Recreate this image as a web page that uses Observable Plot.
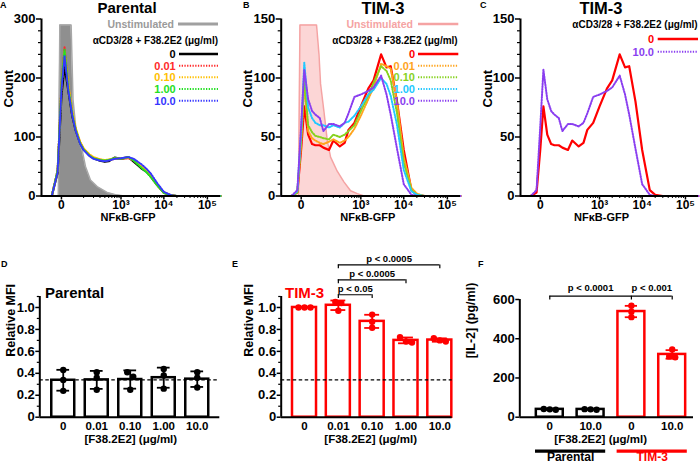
<!DOCTYPE html>
<html>
<head>
<meta charset="utf-8">
<script src="https://cdn.jsdelivr.net/npm/d3@7"></script>
<script src="https://cdn.jsdelivr.net/npm/@observablehq/plot@0.6"></script>
<style>
  html, body { margin: 0; padding: 0; background: #fff; }
  #fig { position: relative; width: 700px; height: 464px; overflow: hidden; background: #fff; }
  #fig svg { position: absolute; background: transparent; max-width: none; }
</style>
</head>
<body>
<div id="fig"></div>
<script>
// ================= DATA =================
// Histogram intensity grid (NFκB-GFP)
const histX = [-84, -60, -30, -10, 0, 8, 20, 35, 50, 75, 100, 150, 200, 300, 400, 500, 700, 1000, 1500, 2000, 3000, 4000, 5000, 7000, 10000, 15000, 20000, 30000, 200000];

// Panel A – Parental (counts at histX)
const parentalDoses = ["0", "0.01", "0.10", "1.00", "10.0"];
const parentalColors = ["#000000", "#ff2a2a", "#ffc000", "#22e022", "#3535ff"];
const parental_0   = [0,0,0,40,170,220,178,135,112,90,79,69,64,60,58,59,65,63,66,58,47,41,33,19,6,1,0,0,0];
const parental_001 = [0,0,0,45,190,252,185,140,114,91,80,70,65,62,60,61,63,63,64,60,50,42,33,18,5,1,0,0,0];
const parental_010 = [0,0,0,42,185,245,188,143,116,93,81,71,66,62,61,62,64,64,65,61,50,43,35,20,6,1,0,0,0];
const parental_100 = [0,0,0,44,188,248,182,138,113,90,79,69,64,61,60,61,64,63,66,60,48,40,32,18,5,1,0,0,0];
const parental_10  = [0,0,0,40,180,237,178,136,111,89,78,68,63,60,59,60,63,64,66,63,54,46,38,22,7,1,0,0,0];
const parentalUnstimX = [-84,-8,-4,0,10,20,30,38,54,89,115,163,251,456,733,1200,200000];
const parentalUnstimY = [0,0,290,290,290,290,290,163,106,78,50,27,16,6,2,0,0];

// Panels B, C – TIM-3 (counts at histX)
const timDoses = ["0", "0.01", "0.10", "1.00", "10.0"];
const timColors = ["#ff0000", "#ffa41c", "#86d21e", "#22c8ff", "#8a3ef0"];
const tim_0   = [0,0,0,3,40,76,52,44,43,43,41,39,47,42,45,56,62,76,91,98,120,109,110,80,39,5,1,0,0];
const tim_001 = [0,0,0,3,45,95,55,49,47,45,44,46,48,45,47,50,57,68,82,92,112,110,108,80,33,7,2,0,0];
const tim_010 = [0,0,0,3,48,100,60,54,51,50,49,48,52,50,52,55,60,72,85,96,110,106,98,70,28,5,1,0,0];
const tim_100 = [0,0,0,4,55,113,75,66,62,60,60,58,60,58,62,63,68,76,86,90,100,95,85,60,22,4,1,0,0];
const tim_10  = [0,0,0,5,60,107,82,72,69,66,55,61,61,59,62,70,84,86,89,92,102,86,69,40,10,1,0,0,0];
const timUnstimX = [-84,-7,-3,0,20,56,70,80,104,133,167,256,383,563,820,1190,200000];
const timUnstimY = [0,0,145,145,145,145,120,95,72,47,33,21,12,4.5,2,0,0];

// Panels D, E – relative MFI (3 replicates per dose)
const doseLabels = ["0", "0.01", "0.10", "1.00", "10.0"];
const parentalMFI = [[0.43,0.34,0.24],[0.41,0.36,0.25],[0.41,0.37,0.25],[0.44,0.38,0.26],[0.41,0.36,0.27]];
const tim3MFI = [[1.00,1.00,1.00],[1.05,1.04,0.97],[0.935,0.87,0.815],[0.73,0.69,0.68],[0.72,0.70,0.69]];
const unstimMFI = 0.34;
const mfiTests = [{label: "p < 0.05", a: 1, b: 2}, {label: "p < 0.0005", a: 1, b: 3}, {label: "p < 0.0005", a: 1, b: 4}];

// Panel F – IL-2 (pg/ml)
const il2Doses = ["0", "10.0", "0", "10.0"];
const il2Lines = ["Parental", "Parental", "TIM-3", "TIM-3"];
const il2 = [[42,38,40],[40,38,41],[568,510,538],[345,305,310]];
const il2Tests = [{label: "p < 0.0001", a: 0, b: 2}, {label: "p < 0.001", a: 2, b: 3}];

// ================= DRAWING =================
const FONT = '"Liberation Sans", Arial, Helvetica, sans-serif';
const RED = "#ff0000";
const DOTS = "1.3,1.4";
const fig = document.getElementById("fig");
const baseStyle = {fontFamily: FONT, fontSize: "13px", fontWeight: "bold", background: "transparent", color: "#000", overflow: "visible"};
function put(svg, left, top) { svg.style.position = "absolute"; svg.style.left = left + "px"; svg.style.top = top + "px"; fig.appendChild(svg); }
const rows = (xs, ys) => xs.map((x, i) => ({x, y: ys[i]}));

const X_MIN = -84, X_MAX = 200000;
const xMajor = [0, 1e3, 1e4, 1e5];
const xMajorText = {0: "0", 1000: "10³", 10000: "10⁴", 100000: "10⁵"};
const xMinor = [...d3.range(100, 1000, 100), ...d3.range(2000, 10000, 1000), ...d3.range(20000, 100000, 10000)];

function histogram({left, width, marginLeft, marginRight, yMax, yStep, yMinorStep, unstim, series, xLabelDx}) {
  const marks = [];
  if (unstim) {
    const r = rows(unstim.x, unstim.y);
    marks.push(Plot.areaY(r, {x: "x", y: "y", fill: unstim.fill}));
    marks.push(Plot.lineY(r, {x: "x", y: "y", stroke: unstim.stroke, strokeWidth: 1.5}));
  }
  series.forEach((s, k) => marks.push(Plot.lineY(rows(histX, s.values), {
    x: "x", y: "y", stroke: s.color, strokeWidth: k === 0 ? 2.2 : 2,
    strokeDasharray: k === 0 ? undefined : DOTS
  })));
  marks.push(
    Plot.ruleY([0], {strokeWidth: 2}),
    Plot.ruleX([X_MIN], {strokeWidth: 2}),
    Plot.axisY({ticks: d3.range(0, yMax + 1, yStep), tickSize: 5, tickPadding: 1, label: null, strokeWidth: 1.5}),
    Plot.axisY({ticks: d3.range(0, yMax, yMinorStep).filter(v => v % yStep), tickSize: 3, tickFormat: () => "", label: null, strokeWidth: 1.2}),
    Plot.axisX({ticks: xMajor, tickFormat: d => xMajorText[d], tickSize: 4, tickPadding: 0.3, label: null, strokeWidth: 1.5, fontSize: 12}),
    Plot.axisX({ticks: xMinor, tickSize: 2.5, tickFormat: () => "", label: null, strokeWidth: 1}),
    Plot.text(["Count"], {text: d => d, frameAnchor: "left", dx: -33, rotate: -90, fontSize: 13}),
    Plot.text(["NFκB-GFP"], {text: d => d, frameAnchor: "bottom", dy: 25, dx: xLabelDx, fontSize: 11})
  );
  const svg = Plot.plot({
    width, height: 225, marginLeft, marginRight, marginTop: 18.5, marginBottom: 29.5,
    x: {type: "symlog", constant: 45, domain: [X_MIN, X_MAX]},
    y: {domain: [0, yMax]},
    style: baseStyle, marks
  });
  put(svg, left, 0);
}

histogram({
  left: 0, width: 225, marginLeft: 41, marginRight: 5, yMax: 300, yStep: 100, yMinorStep: 20, xLabelDx: -3,
  unstim: {x: parentalUnstimX, y: parentalUnstimY, fill: "#8f8f8f", stroke: "#a8a8a8"},
  series: [parental_0, parental_001, parental_010, parental_100, parental_10].map((v, k) => ({values: v, color: parentalColors[k]}))
});
histogram({
  left: 230, width: 232, marginLeft: 50.7, marginRight: 2, yMax: 150, yStep: 50, yMinorStep: 10, xLabelDx: -3,
  unstim: {x: timUnstimX, y: timUnstimY, fill: "#fcd6d6", stroke: "#f5a3a3"},
  series: [tim_0, tim_001, tim_010, tim_100, tim_10].map((v, k) => ({values: v, color: timColors[k]}))
});
histogram({
  left: 462, width: 238, marginLeft: 58, marginRight: 2, yMax: 150, yStep: 50, yMinorStep: 10, xLabelDx: -8,
  unstim: null,
  series: [{values: tim_0, color: timColors[0]}, {values: tim_10, color: timColors[4]}]
});

// ---------- bar panels ----------
function spreadDots(values, pxY, pxX, i, color) {
  const sorted = values.slice().sort((a, b) => b - a);
  const clusters = [];
  for (const v of sorted) {
    const last = clusters[clusters.length - 1];
    if (last && (last[last.length - 1] - v) * pxY < 5) last.push(v); else clusters.push([v]);
  }
  const out = [];
  for (const c of clusters) c.forEach((v, j) => out.push({i, v, off: (j - (c.length - 1) / 2) * 6 / pxX, color}));
  return out;
}

function barPanel({left, width, marginLeft, marginRight, marginTop, yMax, yTicks, yMinor, yFmt, xDomain, groups, labels, colors, halfW, capHalf, ylabel, ylabelDx, xlabelDx, extra}) {
  const H = 234, marginBottom = 47.3;
  const pxX = (width - marginLeft - marginRight) / (xDomain[1] - xDomain[0]);
  const pxY = (H - marginTop - marginBottom) / yMax;
  const stats = groups.map((v, i) => {
    const m = d3.mean(v), s = d3.deviation(v);
    return {i, mean: m, lo: m - s, hi: m + s, color: colors[i]};
  });
  const dots = groups.flatMap((v, i) => spreadDots(v, pxY, pxX, i, colors[i]));
  const marks = [
    Plot.rect(stats, {x1: d => d.i - halfW, x2: d => d.i + halfW, y1: 0, y2: "mean", fill: "white", stroke: "color", strokeWidth: 2.5}),
    ...(extra || []),
    Plot.ruleX(stats, {x: "i", y1: "lo", y2: "hi", stroke: "color", strokeWidth: 1.8}),
    Plot.ruleY(stats, {y: "hi", x1: d => d.i - capHalf, x2: d => d.i + capHalf, stroke: "color", strokeWidth: 1.8}),
    Plot.ruleY(stats, {y: "lo", x1: d => d.i - capHalf, x2: d => d.i + capHalf, stroke: "color", strokeWidth: 1.8}),
    Plot.dot(dots, {x: d => d.i + d.off, y: "v", r: 3.2, fill: "color", stroke: "none"}),
    Plot.ruleY([0], {strokeWidth: 2}),
    Plot.ruleX([xDomain[0]], {strokeWidth: 2}),
    Plot.axisY({ticks: yTicks, tickFormat: yFmt, tickSize: 4, tickPadding: 1, label: null, strokeWidth: 1.5}),
    Plot.axisX({ticks: d3.range(labels.length), tickFormat: i => labels[i], tickSize: 0, tickPadding: 5, label: null, fontSize: 11.5}),
    Plot.text([ylabel], {text: d => d, frameAnchor: "left", dx: ylabelDx, rotate: -90, fontSize: 12.5}),
    Plot.text(["[F38.2E2] (μg/ml)"], {text: d => d, frameAnchor: "bottom", dy: 26, dx: xlabelDx, fontSize: 11.5})
  ];
  if (yMinor) marks.push(Plot.axisY({ticks: yMinor, tickFormat: () => "", tickSize: 2.5, label: null, strokeWidth: 1.2}));
  const svg = Plot.plot({
    width, height: H, marginLeft, marginRight, marginTop, marginBottom,
    x: {domain: xDomain}, y: {domain: [0, yMax]}, color: {type: "identity"},
    style: baseStyle, marks
  });
  put(svg, left, 230);
}

const mfiFmt = d => d === 0 ? "0" : d3.format(".1f")(d);
const mfiMinor = [0.1, 0.3, 0.5, 0.7, 0.9, 1.1];

barPanel({
  left: 0, width: 230, marginLeft: 39.3, marginRight: 10.7, marginTop: 66,
  yMax: 1.1, yTicks: [0, 0.2, 0.4, 0.6, 0.8, 1.0], yMinor: mfiMinor, yFmt: mfiFmt,
  xDomain: [-0.7, 4.673], groups: parentalMFI, labels: doseLabels, colors: doseLabels.map(() => "#000"),
  halfW: 0.343, capHalf: 0.19, ylabel: "Relative MFI", ylabelDx: -29, xlabelDx: 1,
  extra: [Plot.ruleY([unstimMFI], {strokeDasharray: "3.5,2.5", strokeWidth: 1.3})]
});

const eBr = mfiTests.map((t, k) => ({...t, level: 1.116 + k * 0.136}));
const eEnds = eBr.flatMap(b => [{x: b.a, y: b.level}, {x: b.b, y: b.level}]);
barPanel({
  left: 230, width: 230, marginLeft: 50.7, marginRight: 8.3, marginTop: 66,
  yMax: 1.1, yTicks: [0, 0.2, 0.4, 0.6, 0.8, 1.0], yMinor: mfiMinor, yFmt: mfiFmt,
  xDomain: [-0.689, 4.366], groups: tim3MFI, labels: doseLabels, colors: doseLabels.map(() => RED),
  halfW: 0.355, capHalf: 0.22, ylabel: "Relative MFI", ylabelDx: -32, xlabelDx: 4,
  extra: [
    Plot.ruleY([unstimMFI], {strokeDasharray: "3.5,2.5", strokeWidth: 1.3}),
    Plot.ruleY(eBr, {y: "level", x1: "a", x2: "b", strokeWidth: 1.2}),
    Plot.ruleX(eEnds, {x: "x", y1: "y", y2: d => d.y - 0.035, strokeWidth: 1.2}),
    Plot.text(eBr, {x: d => (d.a + d.b) / 2, y: d => d.level + 0.05, text: "label", fontSize: 9.5})
  ]
});

const fLevel = 617;
const fEnds = [...new Set(il2Tests.flatMap(t => [t.a, t.b]))];
const lineGroups = [...new Set(il2Lines)].map(name => {
  const idx = il2Lines.map((n, i) => n === name ? i : -1).filter(i => i >= 0);
  return {name, x1: d3.min(idx) - 0.35, x2: d3.max(idx) + 0.37, color: name === "Parental" ? "#000" : RED};
});
barPanel({
  left: 460, width: 240, marginLeft: 59.3, marginRight: 7, marginTop: 69,
  yMax: 600, yTicks: [0, 200, 400, 600], yMinor: null, yFmt: d => String(d),
  xDomain: [-0.735, 3.522], groups: il2, labels: il2Doses, colors: il2Lines.map(n => n === "Parental" ? "#000" : RED),
  halfW: 0.33, capHalf: 0.15, ylabel: "[IL-2] (pg/ml)", ylabelDx: -49, xlabelDx: -6,
  extra: [
    Plot.ruleY([fLevel], {x1: d3.min(fEnds), x2: d3.max(fEnds), strokeWidth: 1.2}),
    Plot.ruleX(fEnds, {x: d => d, y1: fLevel, y2: fLevel - 20, strokeWidth: 1.2}),
    Plot.text(il2Tests, {x: d => (d.a + d.b) / 2, y: fLevel + 42, text: "label", fontSize: 9.5}),
    Plot.ruleY(lineGroups, {y: -173, x1: "x1", x2: "x2", stroke: "color", strokeWidth: 3.2}),
    Plot.text(lineGroups, {x: d => (d.x1 + d.x2) / 2, y: -205, text: "name", fill: "color", fontSize: 12})
  ]
});

// ---------- overlay: panel letters, titles, legends ----------
const ov = d3.select(fig).append("svg").attr("width", 700).attr("height", 464)
  .style("left", "0px").style("top", "0px").style("font-family", FONT).style("font-weight", "bold");
function txt(x, y, s, size, fill = "#000", anchor = "start") {
  ov.append("text").attr("x", x).attr("y", y).attr("dy", "0.35em").attr("font-size", size)
    .attr("fill", fill).attr("text-anchor", anchor).text(s);
}
function seg(x1, x2, y, stroke, width, dash) {
  ov.append("line").attr("x1", x1).attr("x2", x2).attr("y1", y).attr("y2", y)
    .attr("stroke", stroke).attr("stroke-width", width).attr("stroke-dasharray", dash || null);
}
[["A", 0, 5], ["B", 243, 5], ["C", 480, 5], ["D", 1, 264], ["E", 232, 264], ["F", 478, 264]]
  .forEach(([s, x, y]) => txt(x, y, s, 9));
txt(127, 7.5, "Parental", 15, "#000", "middle");
txt(383, 8.2, "TIM-3", 16.5, "#000", "middle");
txt(601, 8.2, "TIM-3", 16.5, "#000", "middle");
txt(45, 293, "Parental", 15);
txt(285, 293, "TIM-3", 15, RED);

const stimLabel = "αCD3/28 + F38.2E2 (μg/ml)";
// A legend
txt(174, 24, "Unstimulated", 10.5, "#9a9a9a", "end"); seg(178, 218, 24, "#a0a0a0", 3);
txt(218, 40.7, stimLabel, 10, "#000", "end");
parentalDoses.forEach((d, k) => { const y = 54 + k * 11.67; txt(175.7, y, d, 11, parentalColors[k], "end"); seg(179, 218, y, parentalColors[k], k ? 2 : 2.5, k ? DOTS : null); });
// B legend
txt(413, 24, "Unstimulated", 10.5, "#f5a3a3", "end"); seg(418, 458.3, 24, "#f5a3a3", 2.5);
txt(457.7, 40.7, stimLabel, 10, "#000", "end");
timDoses.forEach((d, k) => { const y = 54 + k * 11.67; txt(415, y, d, 11, timColors[k], "end"); seg(418, 458.3, y, timColors[k], k ? 2 : 2.5, k ? DOTS : null); });
// C legend
txt(697.7, 24, stimLabel, 10, "#000", "end");
[0, 4].forEach((k, j) => { const y = 39 + j * 12.7; txt(654, y, timDoses[k], 11, timColors[k], "end"); seg(657.7, 698, y, timColors[k], k ? 2 : 2.5, k ? DOTS : null); });
</script>
</body>
</html>
